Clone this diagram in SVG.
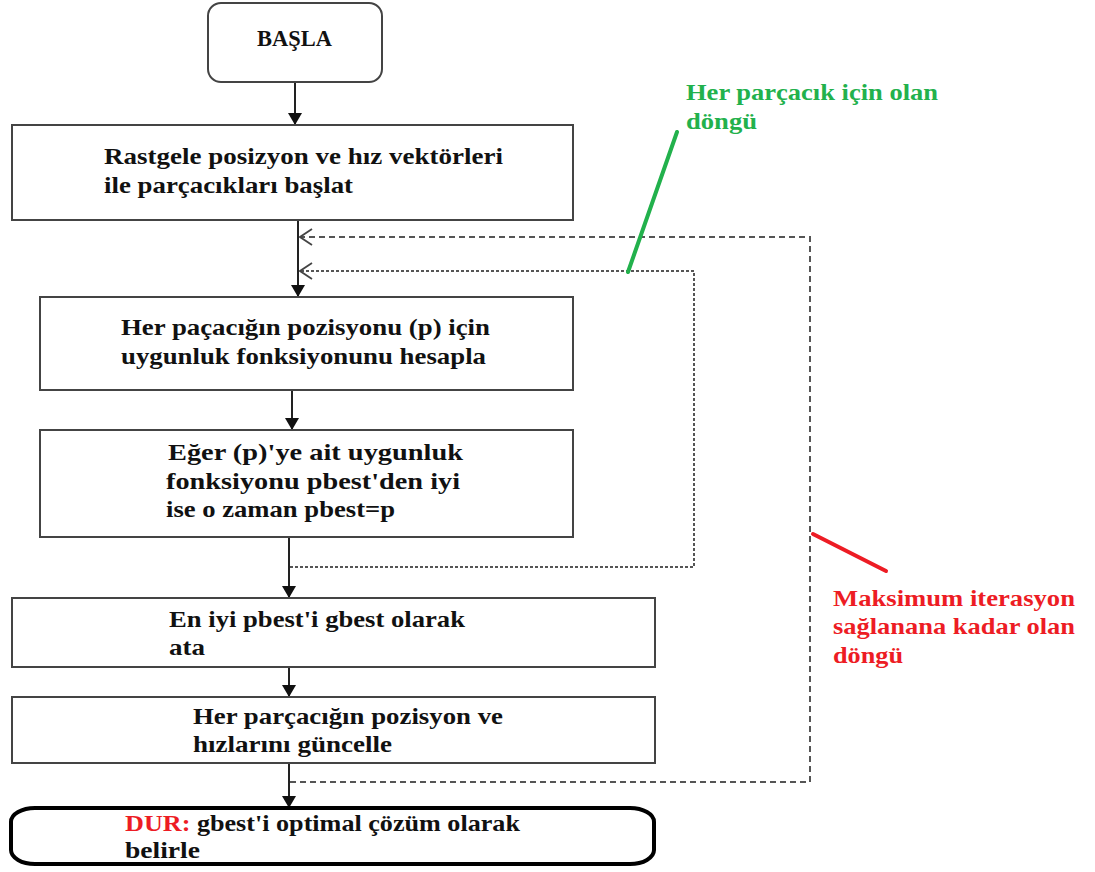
<svg xmlns="http://www.w3.org/2000/svg" width="1095" height="872" viewBox="0 0 1095 872">
<defs>
<style>
.box{fill:#fff;stroke:#444;stroke-width:2}
.t{font-family:"Liberation Serif","DejaVu Serif",serif;font-weight:bold;font-size:23px;fill:#111}
.g{fill:#22b14c}
.r{fill:#ed1c24}
.ln{stroke:#222;stroke-width:2;fill:none}
.dash{stroke:#555;stroke-width:2;fill:none;stroke-dasharray:6 4}
.dot{stroke:#555;stroke-width:2;fill:none;stroke-dasharray:3 2}
</style>
<marker id="ah" viewBox="0 0 12 14" refX="12" refY="7" markerWidth="12" markerHeight="14" markerUnits="userSpaceOnUse" orient="auto">
<path d="M0,0 L12,7 L0,14 Z" fill="#111"/>
</marker>
<marker id="oh" viewBox="0 0 14 18" refX="13" refY="9" markerWidth="14" markerHeight="18" markerUnits="userSpaceOnUse" orient="auto">
<path d="M1,1 L13,9 L1,17" fill="none" stroke="#444" stroke-width="1.8"/>
</marker>
</defs>
<rect width="1095" height="872" fill="#fff"/>
<g id="connectors">
<line class="ln" x1="295" y1="82" x2="295" y2="125" marker-end="url(#ah)"/>
<line class="ln" x1="298" y1="220" x2="298" y2="297" marker-end="url(#ah)"/>
<line class="ln" x1="292" y1="390" x2="292" y2="430" marker-end="url(#ah)"/>
<line class="ln" x1="289" y1="537" x2="289" y2="598" marker-end="url(#ah)"/>
<line class="ln" x1="289" y1="667" x2="289" y2="697" marker-end="url(#ah)"/>
<line class="ln" x1="289" y1="763" x2="289" y2="808" marker-end="url(#ah)"/>
<path class="dot" d="M290,567 H694 V271 H300" marker-end="url(#oh)"/>
<path class="dash" d="M290,782 H810 V237 H300" marker-end="url(#oh)"/>
<line x1="628" y1="272" x2="677" y2="132" stroke="#22b14c" stroke-width="4" stroke-linecap="round"/>
<line x1="813" y1="534" x2="886" y2="571" stroke="#ed1c24" stroke-width="4" stroke-linecap="round"/>
</g>
<g id="start">
<rect class="box" x="208" y="3" width="174" height="79" rx="13"/>
<text class="t" x="257" y="46" textLength="75" lengthAdjust="spacingAndGlyphs">BAŞLA</text>
</g>
<g id="init">
<rect class="box" x="12" y="125" width="561" height="95"/>
<text class="t" x="104" y="164" textLength="399" lengthAdjust="spacingAndGlyphs">Rastgele posizyon ve hız vektörleri</text>
<text class="t" x="104" y="193" textLength="249" lengthAdjust="spacingAndGlyphs">ile parçacıkları başlat</text>
</g>
<g id="fitness">
<rect class="box" x="40" y="297" width="533" height="93"/>
<text class="t" x="121" y="335" textLength="369" lengthAdjust="spacingAndGlyphs">Her paçacığın pozisyonu (p) için</text>
<text class="t" x="121" y="364" textLength="365" lengthAdjust="spacingAndGlyphs">uygunluk fonksiyonunu hesapla</text>
</g>
<g id="pbest">
<rect class="box" x="40" y="430" width="533" height="107"/>
<text class="t" x="168" y="460" textLength="295" lengthAdjust="spacingAndGlyphs">Eğer (p)'ye ait uygunluk</text>
<text class="t" x="166" y="489" textLength="294" lengthAdjust="spacingAndGlyphs">fonksiyonu pbest'den iyi</text>
<text class="t" x="166" y="517" textLength="229" lengthAdjust="spacingAndGlyphs">ise o zaman pbest=p</text>
</g>
<g id="gbest">
<rect class="box" x="12" y="598" width="643" height="69"/>
<text class="t" x="169" y="627" textLength="296" lengthAdjust="spacingAndGlyphs">En iyi pbest'i gbest olarak</text>
<text class="t" x="169" y="655" textLength="36" lengthAdjust="spacingAndGlyphs">ata</text>
</g>
<g id="update">
<rect class="box" x="12" y="697" width="643" height="66"/>
<text class="t" x="193" y="724" textLength="310" lengthAdjust="spacingAndGlyphs">Her parçacığın pozisyon ve</text>
<text class="t" x="193" y="752" textLength="199" lengthAdjust="spacingAndGlyphs">hızlarını güncelle</text>
</g>
<g id="stop">
<rect x="11" y="808" width="643" height="56" rx="24" ry="14" fill="#fff" stroke="#000" stroke-width="4"/>
<text class="t" x="125" y="831" textLength="395" lengthAdjust="spacingAndGlyphs"><tspan class="r">DUR:</tspan> gbest'i optimal çözüm olarak</text>
<text class="t" x="125" y="858" textLength="75" lengthAdjust="spacingAndGlyphs">belirle</text>
</g>
<g id="label-inner">
<text class="t g" x="686" y="100" textLength="252" lengthAdjust="spacingAndGlyphs">Her parçacık için olan</text>
<text class="t g" x="686" y="129" textLength="71" lengthAdjust="spacingAndGlyphs">döngü</text>
</g>
<g id="label-outer">
<text class="t r" x="833" y="606" textLength="242" lengthAdjust="spacingAndGlyphs">Maksimum iterasyon</text>
<text class="t r" x="833" y="634" textLength="242" lengthAdjust="spacingAndGlyphs">sağlanana kadar olan</text>
<text class="t r" x="833" y="663" textLength="70" lengthAdjust="spacingAndGlyphs">döngü</text>
</g>
</svg>
